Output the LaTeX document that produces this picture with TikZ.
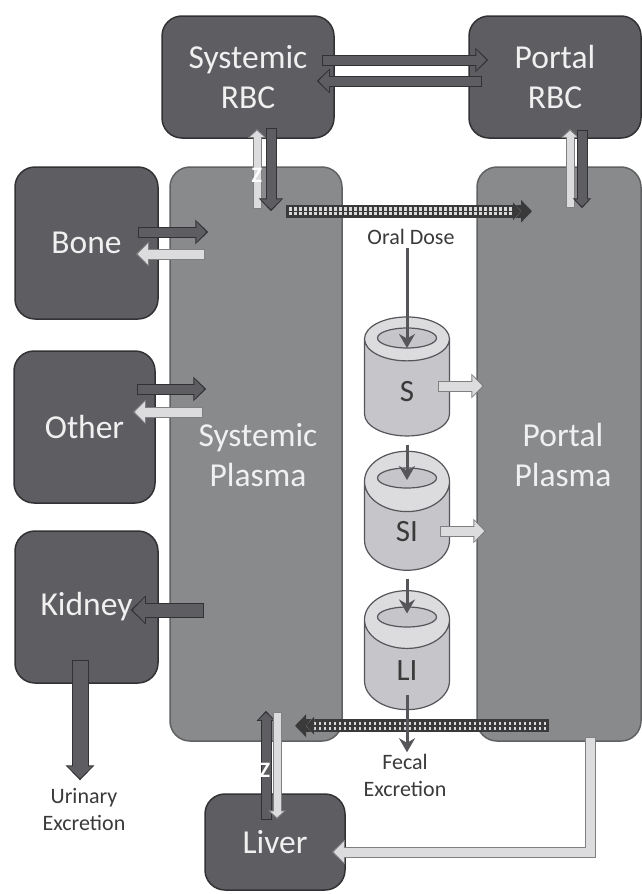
\documentclass[tikz,border=0pt]{standalone}
\usepackage{fontspec}
\setmainfont{Carlito}
\usetikzlibrary{arrows.meta, positioning, shapes.geometric, calc}

\definecolor{organgray}{HTML}{5E5E62}
\definecolor{organedge}{HTML}{323235}
\definecolor{plasmagray}{HTML}{888A8C}
\definecolor{plasmaedge}{HTML}{5F6163}
\definecolor{gutgray}{HTML}{C6C6CA}
\definecolor{gutedge}{HTML}{55555A}
\definecolor{lightgray}{HTML}{DCDCDE}
\definecolor{inkgray}{HTML}{3A3A3A}

\begin{document}
\begin{tikzpicture}[
    x=1pt, y=-1pt,
    organ/.style={draw=organedge, line width=1.5pt, rounded corners=20pt, fill=organgray, text=white!94!black, align=center, font=\fontsize{33.5}{40}\selectfont},
    plasma/.style={organ, draw=plasmaedge, fill=plasmagray},
    gut/.style={cylinder, shape border rotate=90, aspect=2.1, minimum width=85pt, minimum height=119pt, draw=gutedge, line width=1.2pt, cylinder uses custom fill, cylinder body fill=gutgray, cylinder end fill=lightgray, text=inkgray, font=\fontsize{31}{34}\selectfont},
    gutmouth/.style={ellipse, minimum width=59pt, minimum height=20pt, draw=gutedge, line width=1.2pt, fill=gutgray},
    note/.style={text=inkgray, align=center, font=\fontsize{22}{27}\selectfont},
    zmark/.style={text=white, font=\bfseries\fontsize{22}{22}\selectfont, inner sep=0pt},
    block/.style n args={5}{preaction={draw=#2, line width=#3+2pt, shorten <=-1pt, shorten >=-2pt, -{Triangle[length=#5+3pt,width=#4+4pt]}}, draw=#1, line width=#3, -{Triangle[length=#5,width=#4]}},
    darkblock/.style={block={organgray}{organedge}{9pt}{20pt}{10pt}},
    lightblock/.style={block={lightgray}{gray}{9pt}{20pt}{10pt}},
    slimdark/.style={block={organgray}{organedge}{9pt}{14pt}{7pt}},
    slimlight/.style={block={lightgray}{gray}{7pt}{13pt}{6pt}},
    dotblock/.style={block={inkgray}{inkgray}{11pt}{18pt}{8pt},
        postaction={draw=white!85!black, line width=8pt, dash pattern=on 2.5pt off 2.5pt, shorten >=9pt, shorten <=2pt},
        postaction={draw=inkgray, line width=1.5pt, shorten >=9pt, shorten <=2pt}},
    thinflow/.style={draw=gutedge, line width=3pt, -{Stealth[length=14pt,width=16pt]}}
]
\useasboundingbox (0,0) rectangle (641,894);

% Plasma
\node[plasma, minimum width=172pt, minimum height=574pt] (sysplasma) at (256,454) {};
\node[plasma, minimum width=164pt, minimum height=574pt] (portplasma) at (559,454) {};
\node[text=white!94!black, align=center, font=\fontsize{33.5}{40}\selectfont] (syslabel) at (258,455) {Systemic\\Plasma};
\node[text=white!94!black, align=center, font=\fontsize{33.5}{40}\selectfont] (portlabel) at (563,455) {Portal\\Plasma};

% Organs
\node[organ, minimum width=172pt, minimum height=122pt] (sysrbc) at (248,77) {Systemic\\RBC};
\node[organ, minimum width=172pt, minimum height=122pt] (portrbc) at (555,77) {Portal\\RBC};
\node[organ, minimum width=143pt, minimum height=152pt] (bone) at (86.5,243) {Bone};
\node[organ, minimum width=141pt, minimum height=152pt] (other) at (84.5,427) {Other};
\node[organ, minimum width=143pt, minimum height=152pt] (kidney) at (86.5,607) {Kidney};
\node[organ, minimum width=140pt, minimum height=96pt] (liver) at (275,842) {Liver};

% Gut
\node[gut] (stomach) at (407,392) {S};
\node[gut] (small) at (407,532) {SI};
\node[gut] (large) at (407,670.5) {LI};
\node[gutmouth] (stomachin) at (407,338) {};
\node[gutmouth] (smallin) at (407,478) {};
\node[gutmouth] (largein) at (407,617) {};

% Text
\node[note] (oral) at (411,237) {Oral Dose};
\node[note] (fecal) at (405,775) {Fecal\\Excretion};
\node[note] (urinary) at (84,810) {Urinary\\Excretion};

% RBC exchange
\draw[darkblock] ([xshift=-12pt,yshift=17pt]sysrbc.east) -- ([xshift=18pt,yshift=17pt]portrbc.west);
\draw[darkblock] ([xshift=13pt,yshift=-4pt]portrbc.west) -- ([xshift=-16pt,yshift=-4pt]sysrbc.east);
\draw[slimlight] ([xshift=1pt,yshift=-42pt]sysplasma.north) -- ([xshift=9pt,yshift=8pt]sysrbc.south);
\draw[darkblock] ([xshift=23pt,yshift=10pt]sysrbc.south) -- ([xshift=15pt,yshift=-43pt]sysplasma.north);
\draw[slimlight] ([xshift=11pt,yshift=-41pt]portplasma.north) -- ([xshift=15pt,yshift=8pt]portrbc.south);
\draw[slimdark] ([xshift=27pt,yshift=8pt]portrbc.south) -- ([xshift=23pt,yshift=-40pt]portplasma.north);
\node[zmark] (zrbc) at (257,175) {Z};

% Plasma to plasma
\draw[dotblock] ([xshift=31pt,yshift=-45pt]sysplasma.north) -- ([xshift=-29pt,yshift=-45pt]portplasma.north);

% Tissues
\draw[darkblock] ([xshift=-20pt,yshift=11pt]bone.east) -- ([xshift=37pt,yshift=222pt]sysplasma.west);
\draw[lightblock] ([xshift=35pt,yshift=200pt]sysplasma.west) -- ([xshift=-21pt,yshift=-11pt]bone.east);
\draw[darkblock] ([xshift=-18pt,yshift=38pt]other.east) -- ([xshift=35pt,yshift=65pt]sysplasma.west);
\draw[lightblock] ([xshift=33pt,yshift=42pt]sysplasma.west) -- ([xshift=-21pt,yshift=15pt]other.east);
\draw[block={organgray}{organedge}{13pt}{24pt}{12pt}] ([xshift=34pt,yshift=-156pt]sysplasma.west) -- ([xshift=-26pt,yshift=-3pt]kidney.east);
\draw[block={organgray}{organedge}{15pt}{24pt}{12pt}] ([xshift=-6.5pt,yshift=23pt]kidney.south) -- ([xshift=-4pt,yshift=7pt]urinary.north);

% Gut flow
\draw[thinflow] ([xshift=-4pt]oral.south) -- ([yshift=44pt]stomach.center);
\draw[thinflow] ([yshift=-8pt]stomach.south) -- ([yshift=52pt]small.center);
\draw[thinflow] ([yshift=-8pt]small.south) -- ([yshift=57pt]large.center);
\draw[lightblock] ([xshift=32pt,yshift=6pt]stomach.center) -- ([xshift=6pt,yshift=68pt]portplasma.west);
\draw[lightblock] ([xshift=34pt,yshift=1pt]small.center) -- ([xshift=8pt,yshift=-77pt]portplasma.west);

% Bottom
\draw[dotblock] ([xshift=-11pt,yshift=16pt]portplasma.south) -- ([xshift=41pt,yshift=16pt]sysplasma.south);
\draw[thinflow] ([yshift=-24.5pt]large.center) -- ([xshift=2pt,yshift=-2pt]fecal.north);
\draw[slimdark] ([xshift=-9pt,yshift=-26pt]liver.north) -- ([xshift=10pt,yshift=29pt]sysplasma.south);
\draw[slimlight] ([xshift=21pt,yshift=29pt]sysplasma.south) -- ([xshift=2pt,yshift=-24pt]liver.north);
\draw[lightblock] ([xshift=31pt,yshift=4pt]portplasma.south) |- ([xshift=-12pt,yshift=-10pt]liver.east);
\node[zmark] (zliver) at (265,770) {Z};

\end{tikzpicture}
\end{document}
